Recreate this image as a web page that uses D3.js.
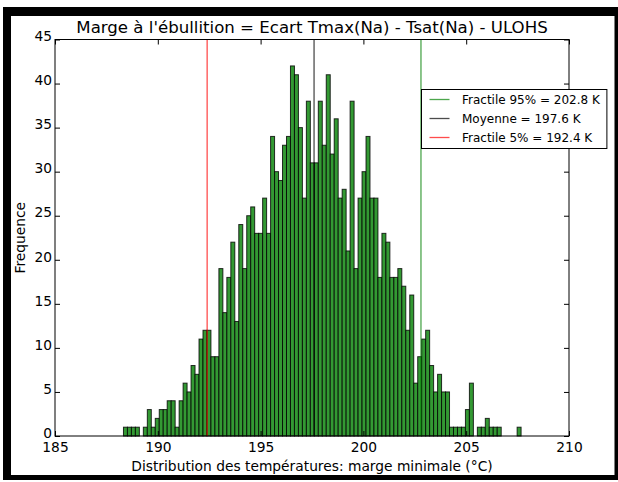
<!DOCTYPE html>
<html>
<head>
<meta charset="utf-8">
<script src="https://cdn.jsdelivr.net/npm/d3@7"></script>
<style>
  html, body { margin: 0; padding: 0; background: #fff; }
  svg { display: block; font-family: "DejaVu Sans", sans-serif; }
</style>
</head>
<body>
<svg id="chart" width="618" height="482"></svg>
<script>
// Histogram of the boiling margin: 100 equal bins over the sampled range
const binCounts = [
  1, 1, 1, 1, 0, 1, 3, 1, 2, 3,
  3, 4, 4, 1, 4, 6, 5, 8, 7, 11,
  12, 12, 9, 9, 19, 14, 18, 22, 13, 24,
  19, 25, 26, 23, 23, 27, 23, 34, 30, 29,
  33, 34, 42, 41, 35, 27, 38, 31, 31, 38,
  33, 41, 32, 36, 27, 28, 21, 38, 19, 27,
  30, 34, 27, 27, 18, 23, 22, 18, 18, 19,
  17, 12, 16, 6, 9, 11, 12, 8, 5, 7,
  5, 5, 1, 1, 1, 1, 3, 6, 0, 1,
  1, 2, 1, 1, 1, 0, 0, 0, 0, 1
];
const binRange = [188.33, 207.67];

const xDomain = [185, 210];
const yDomain = [0, 45];
const xTicks = [185, 190, 195, 200, 205, 210];
const yTicks = [0, 5, 10, 15, 20, 25, 30, 35, 40, 45];

// Reference lines: 95% fractile, mean, 5% fractile
const refValues = [202.8, 197.6, 192.4];
const refLabels = ["Fractile 95% = 202.8 K", "Moyenne = 197.6 K", "Fractile 5% = 192.4 K"];

const titleText = "Marge à l'ébullition = Ecart Tmax(Na) - Tsat(Na) - ULOHS";
const xLabelText = "Distribution des températures: marge minimale (°C)";
const yLabelText = "Frequence";

// ---- layout & style ----
const W = 618, H = 482;
const P = { left: 55, right: 569, top: 39.5, bottom: 436 };
const refColors = ["#008000", "#000000", "#ff0000"];
const tickFont = 13.8, titleFont = 16.6, legendFont = 12;

const svg = d3.select("#chart");
svg.append("rect").attr("width", W).attr("height", H).attr("fill", "#fff");

// figure border
const frame = svg.append("g").attr("fill", "#000");
frame.append("rect").attr("x", 3).attr("y", 7).attr("width", 615).attr("height", 9);
frame.append("rect").attr("x", 3).attr("y", 7).attr("width", 8).attr("height", 473);
frame.append("rect").attr("x", 614.5).attr("y", 7).attr("width", 3.5).attr("height", 473);
frame.append("rect").attr("x", 3).attr("y", 475).attr("width", 615).attr("height", 5);

const x = d3.scaleLinear().domain(xDomain).range([P.left, P.right]);
const y = d3.scaleLinear().domain(yDomain).range([P.bottom, P.top]);

const nBins = binCounts.length;
const edges = d3.range(nBins + 1).map(i => binRange[0] + (binRange[1] - binRange[0]) * i / nBins);
const bins = binCounts.map((c, i) => ({ x0: edges[i], x1: edges[i + 1], count: c }));

// bars
svg.append("g")
  .selectAll("rect")
  .data(bins.filter(d => d.count > 0))
  .join("rect")
  .attr("x", d => x(d.x0))
  .attr("y", d => y(d.count))
  .attr("width", d => x(d.x1) - x(d.x0))
  .attr("height", d => y(0) - y(d.count))
  .attr("fill", "#339933")
  .attr("stroke", "#000")
  .attr("stroke-opacity", 0.8)
  .attr("stroke-width", 1);

// vertical reference lines
svg.append("g")
  .selectAll("line")
  .data(refValues)
  .join("line")
  .attr("x1", d => x(d)).attr("x2", d => x(d))
  .attr("y1", P.top).attr("y2", P.bottom)
  .attr("stroke", (d, i) => refColors[i])
  .attr("stroke-opacity", 0.7)
  .attr("stroke-width", 1.3);

// axes (inward ticks on all four sides)
const tickLen = 5;
function styleAxis(g) {
  g.select(".domain").remove();
  g.selectAll(".tick line").attr("stroke", "#000").attr("stroke-width", 1);
  g.selectAll("text").attr("fill", "#000").style("font-size", tickFont + "px")
    .style("font-family", "'DejaVu Sans', sans-serif");
}
svg.append("g").attr("transform", `translate(0,${P.bottom})`)
  .call(d3.axisBottom(x).tickValues(xTicks).tickFormat(d3.format("d")).tickSize(-tickLen).tickPadding(6.7))
  .call(styleAxis);
svg.append("g").attr("transform", `translate(0,${P.top})`)
  .call(d3.axisTop(x).tickValues(xTicks).tickFormat("").tickSize(-tickLen))
  .call(styleAxis);
const yAxisG = svg.append("g").attr("transform", `translate(${P.left},0)`)
  .call(d3.axisLeft(y).tickValues(yTicks).tickFormat(d3.format("d")).tickSize(-tickLen).tickPadding(3))
  .call(styleAxis);
yAxisG.selectAll("text").attr("dy", "0.09em");
svg.append("g").attr("transform", `translate(${P.right},0)`)
  .call(d3.axisRight(y).tickValues(yTicks).tickFormat("").tickSize(-tickLen))
  .call(styleAxis);

// plot frame
svg.append("rect")
  .attr("x", P.left).attr("y", P.top)
  .attr("width", P.right - P.left).attr("height", P.bottom - P.top)
  .attr("fill", "none").attr("stroke", "#000").attr("stroke-width", 1);

// titles
svg.append("text")
  .attr("x", (P.left + P.right) / 2).attr("y", 33)
  .attr("text-anchor", "middle").style("font-size", titleFont + "px")
  .text(titleText);
svg.append("text")
  .attr("x", (P.left + P.right) / 2).attr("y", 470.5)
  .attr("text-anchor", "middle").style("font-size", tickFont + "px")
  .text(xLabelText);
svg.append("text")
  .attr("transform", `translate(24.5,${(P.top + P.bottom) / 2}) rotate(-90)`)
  .attr("text-anchor", "middle").style("font-size", tickFont + "px")
  .text(yLabelText);

// legend
const leg = svg.append("g");
const legBox = leg.append("rect")
  .attr("x", 421.5).attr("y", 89.5).attr("height", 59)
  .attr("fill", "#fff").attr("stroke", "#000").attr("stroke-width", 1);
const rowY = [99.5, 118.5, 137.5];
let maxW = 0;
refLabels.forEach((lab, i) => {
  leg.append("line")
    .attr("x1", 429.5).attr("x2", 449.5)
    .attr("y1", rowY[i]).attr("y2", rowY[i])
    .attr("stroke", refColors[i]).attr("stroke-opacity", 0.7).attr("stroke-width", 1.3);
  const t = leg.append("text")
    .attr("x", 462).attr("y", rowY[i]).attr("dy", "0.36em")
    .style("font-size", legendFont + "px")
    .text(lab);
  maxW = Math.max(maxW, t.node().getComputedTextLength());
});
legBox.attr("width", 462 + maxW + 7 - 421.5);
</script>
</body>
</html>
